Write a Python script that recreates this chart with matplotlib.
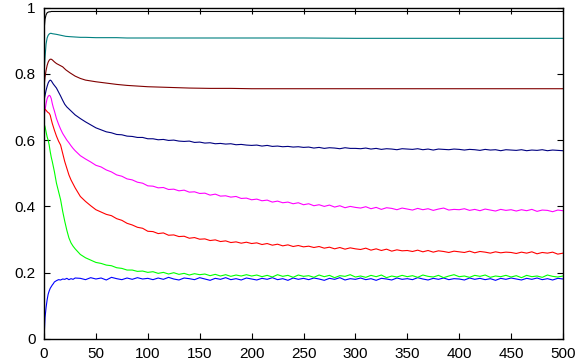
import numpy as np
import matplotlib
matplotlib.use("Agg")
import matplotlib.pyplot as plt

# x grids
x_smooth = [0, 1, 2, 3, 4, 5, 6, 7, 8, 10, 12, 15, 18, 21, 25, 30, 35, 40, 50, 60,
            70, 80, 90, 100, 120, 140, 160, 180, 200, 250, 300, 350, 400, 450, 500]
x_noisy = list(range(0, 11)) + list(range(12, 31, 2)) + list(range(35, 501, 5))

black_vals = [0.930, 0.965, 0.978, 0.984, 0.986, 0.987, 0.987, 0.988, 0.988, 0.988,
              0.988, 0.988, 0.988, 0.988, 0.988, 0.988, 0.988, 0.988, 0.988, 0.988,
              0.988, 0.988, 0.988, 0.988, 0.988, 0.988, 0.988, 0.988, 0.988, 0.988,
              0.988, 0.988, 0.988, 0.988, 0.988]
teal_vals = [0.800, 0.850, 0.890, 0.908, 0.916, 0.920, 0.922, 0.922, 0.921, 0.920,
             0.919, 0.917, 0.915, 0.913, 0.912, 0.911, 0.910, 0.910, 0.909, 0.909,
             0.909, 0.908, 0.908, 0.908, 0.908, 0.908, 0.908, 0.908, 0.908, 0.908,
             0.907, 0.907, 0.907, 0.907, 0.907]
darkred_vals = [0.760, 0.790, 0.810, 0.825, 0.835, 0.841, 0.844, 0.844, 0.842, 0.836,
                0.831, 0.826, 0.821, 0.812, 0.803, 0.793, 0.786, 0.781, 0.776, 0.772,
                0.768, 0.765, 0.763, 0.761, 0.759, 0.757, 0.756, 0.756, 0.755, 0.755,
                0.755, 0.755, 0.755, 0.755, 0.755]

navy_vals = [0.72, 0.735, 0.75, 0.762, 0.772, 0.778, 0.781, 0.779, 0.774, 0.769, 0.765,
             0.757, 0.745, 0.733, 0.72, 0.708, 0.70, 0.694, 0.688, 0.682, 0.676,
             0.665, 0.655, 0.646, 0.637, 0.631, 0.625, 0.622, 0.617, 0.616, 0.612, 0.611, 0.608, 0.608, 0.604,
             0.604, 0.601, 0.602, 0.599, 0.600, 0.597, 0.596, 0.597, 0.593, 0.594,
             0.591, 0.592, 0.589, 0.590, 0.588, 0.589, 0.586, 0.587, 0.585, 0.584,
             0.585, 0.582, 0.584, 0.581, 0.582, 0.580, 0.581, 0.579, 0.580, 0.578,
             0.579, 0.576, 0.578, 0.575, 0.577, 0.576, 0.574, 0.577, 0.575, 0.575,
             0.574, 0.576, 0.573, 0.575, 0.572, 0.574, 0.573, 0.571, 0.574, 0.573,
             0.572, 0.574, 0.571, 0.573, 0.570, 0.573, 0.572, 0.571, 0.573, 0.572,
             0.570, 0.572, 0.571, 0.569, 0.572, 0.570, 0.571, 0.568, 0.571, 0.570,
             0.569, 0.571, 0.568, 0.570, 0.569, 0.571, 0.568, 0.570, 0.569, 0.568]
magenta_vals = [0.67, 0.69, 0.71, 0.725, 0.732, 0.735, 0.733, 0.725, 0.71, 0.698, 0.688,
                0.665, 0.648, 0.633, 0.62, 0.61, 0.60, 0.592, 0.583, 0.575, 0.568,
                0.553, 0.543, 0.534, 0.524, 0.519, 0.510, 0.504, 0.495, 0.491, 0.483, 0.480, 0.473, 0.470, 0.462,
                0.461, 0.456, 0.457, 0.451, 0.452, 0.447, 0.449, 0.443, 0.444, 0.439,
                0.440, 0.434, 0.437, 0.431, 0.432, 0.428, 0.430, 0.424, 0.425, 0.420,
                0.422, 0.417, 0.419, 0.413, 0.416, 0.411, 0.413, 0.408, 0.411, 0.405,
                0.408, 0.402, 0.405, 0.400, 0.404, 0.398, 0.402, 0.396, 0.400, 0.397,
                0.395, 0.399, 0.393, 0.397, 0.391, 0.396, 0.394, 0.390, 0.395, 0.392,
                0.389, 0.394, 0.390, 0.393, 0.388, 0.392, 0.395, 0.389, 0.391, 0.390,
                0.393, 0.388, 0.391, 0.387, 0.392, 0.389, 0.386, 0.391, 0.388, 0.390,
                0.386, 0.390, 0.387, 0.391, 0.385, 0.389, 0.388, 0.384, 0.389, 0.387]
red_vals = [0.695, 0.693, 0.69, 0.686, 0.683, 0.681, 0.675, 0.662, 0.65, 0.64, 0.63,
            0.612, 0.597, 0.585, 0.56, 0.535, 0.515, 0.495, 0.48, 0.468, 0.456,
            0.430, 0.415, 0.402, 0.390, 0.383, 0.376, 0.372, 0.363, 0.358, 0.349, 0.344, 0.337, 0.334, 0.325,
            0.324, 0.318, 0.320, 0.313, 0.314, 0.309, 0.310, 0.304, 0.306, 0.301,
            0.302, 0.297, 0.299, 0.294, 0.296, 0.291, 0.293, 0.289, 0.292, 0.288,
            0.290, 0.285, 0.288, 0.283, 0.286, 0.281, 0.284, 0.279, 0.282, 0.278,
            0.280, 0.276, 0.279, 0.274, 0.277, 0.272, 0.276, 0.271, 0.275, 0.272,
            0.270, 0.274, 0.268, 0.272, 0.267, 0.271, 0.265, 0.269, 0.266, 0.267,
            0.264, 0.268, 0.263, 0.267, 0.262, 0.266, 0.264, 0.261, 0.265, 0.263,
            0.261, 0.265, 0.260, 0.264, 0.262, 0.259, 0.263, 0.260, 0.262, 0.261,
            0.258, 0.262, 0.259, 0.263, 0.257, 0.261, 0.259, 0.262, 0.256, 0.259]
green_vals = [0.65, 0.64, 0.625, 0.61, 0.60, 0.585, 0.565, 0.548, 0.535, 0.52, 0.505,
              0.47, 0.445, 0.42, 0.385, 0.355, 0.328, 0.305, 0.29, 0.28, 0.272,
              0.255, 0.245, 0.238, 0.231, 0.228, 0.223, 0.221, 0.215, 0.213, 0.208, 0.208, 0.204, 0.205, 0.201,
              0.203, 0.198, 0.201, 0.196, 0.200, 0.195, 0.198, 0.193, 0.197, 0.194,
              0.196, 0.191, 0.195, 0.190, 0.194, 0.189, 0.193, 0.190, 0.194, 0.190,
              0.193, 0.188, 0.192, 0.187, 0.194, 0.189, 0.192, 0.186, 0.193, 0.189,
              0.191, 0.186, 0.193, 0.188, 0.192, 0.185, 0.191, 0.189, 0.194, 0.187,
              0.190, 0.186, 0.192, 0.188, 0.193, 0.185, 0.190, 0.187, 0.192, 0.188,
              0.191, 0.186, 0.193, 0.189, 0.187, 0.192, 0.185, 0.190, 0.194, 0.188,
              0.190, 0.186, 0.192, 0.189, 0.193, 0.186, 0.190, 0.188, 0.192, 0.187,
              0.191, 0.185, 0.192, 0.188, 0.190, 0.186, 0.193, 0.189, 0.187, 0.190]
blue_vals = [0.0, 0.065, 0.095, 0.118, 0.135, 0.145, 0.153, 0.158, 0.163, 0.167, 0.172,
             0.176, 0.179, 0.178, 0.181, 0.180, 0.183, 0.179, 0.182, 0.180, 0.184,
             0.183, 0.179, 0.185, 0.181, 0.184, 0.178, 0.186, 0.182, 0.179, 0.184, 0.180, 0.185, 0.181, 0.183,
             0.179, 0.184, 0.180, 0.186, 0.181, 0.178, 0.184, 0.182, 0.179, 0.185,
             0.181, 0.177, 0.183, 0.180, 0.185, 0.179, 0.182, 0.178, 0.184, 0.181,
             0.178, 0.183, 0.180, 0.185, 0.179, 0.182, 0.177, 0.184, 0.180, 0.183,
             0.179, 0.184, 0.181, 0.177, 0.183, 0.180, 0.185, 0.178, 0.182, 0.180,
             0.184, 0.179, 0.182, 0.177, 0.183, 0.181, 0.178, 0.184, 0.180, 0.182,
             0.179, 0.185, 0.181, 0.178, 0.183, 0.180, 0.184, 0.179, 0.182, 0.181,
             0.178, 0.184, 0.180, 0.183, 0.179, 0.182, 0.177, 0.183, 0.180, 0.184,
             0.181, 0.178, 0.183, 0.180, 0.184, 0.179, 0.182, 0.178, 0.183, 0.181]

x_ticks = [0, 50, 100, 150, 200, 250, 300, 350, 400, 450, 500]
x_labels = ["0", "50", "100", "150", "200", "250", "300", "350", "400", "450", "500"]
y_ticks = [0, 0.2, 0.4, 0.6, 0.8, 1.0]
y_labels = ["0", "0.2", "0.4", "0.6", "0.8", "1"]

plt.rcParams['font.family'] = ['Liberation Sans Narrow', 'Liberation Sans', 'DejaVu Sans']

fig = plt.figure(figsize=(5.79, 3.63), dpi=100)
ax = fig.add_axes([44 / 579, 24 / 363, (563 - 44) / 579, (339 - 7.5) / 363])

lw = 0.8
series = [
    (x_smooth, black_vals, "#000000"),
    (x_smooth, teal_vals, "#008080"),
    (x_smooth, darkred_vals, "#800000"),
    (x_noisy, navy_vals, "#000080"),
    (x_noisy, magenta_vals, "#ff00ff"),
    (x_noisy, red_vals, "#ff0000"),
    (x_noisy, blue_vals, "#0000ff"),
    (x_noisy, green_vals, "#00ff00"),
]
for xs, ys, c in series:
    ax.plot(xs, ys, color=c, lw=lw)

ax.set_xlim(0, 500)
ax.set_ylim(0, 1)
ax.set_xticks(x_ticks)
ax.set_xticklabels(x_labels)
ax.set_yticks(y_ticks)
ax.set_yticklabels(y_labels)
ax.tick_params(direction="in", length=4, width=0.8, top=True, right=True,
               labelsize=11, pad=6, colors="black")
for s in ax.spines.values():
    s.set_linewidth(1.0)
    s.set_color("black")

fig.savefig("out.png", dpi=100)
